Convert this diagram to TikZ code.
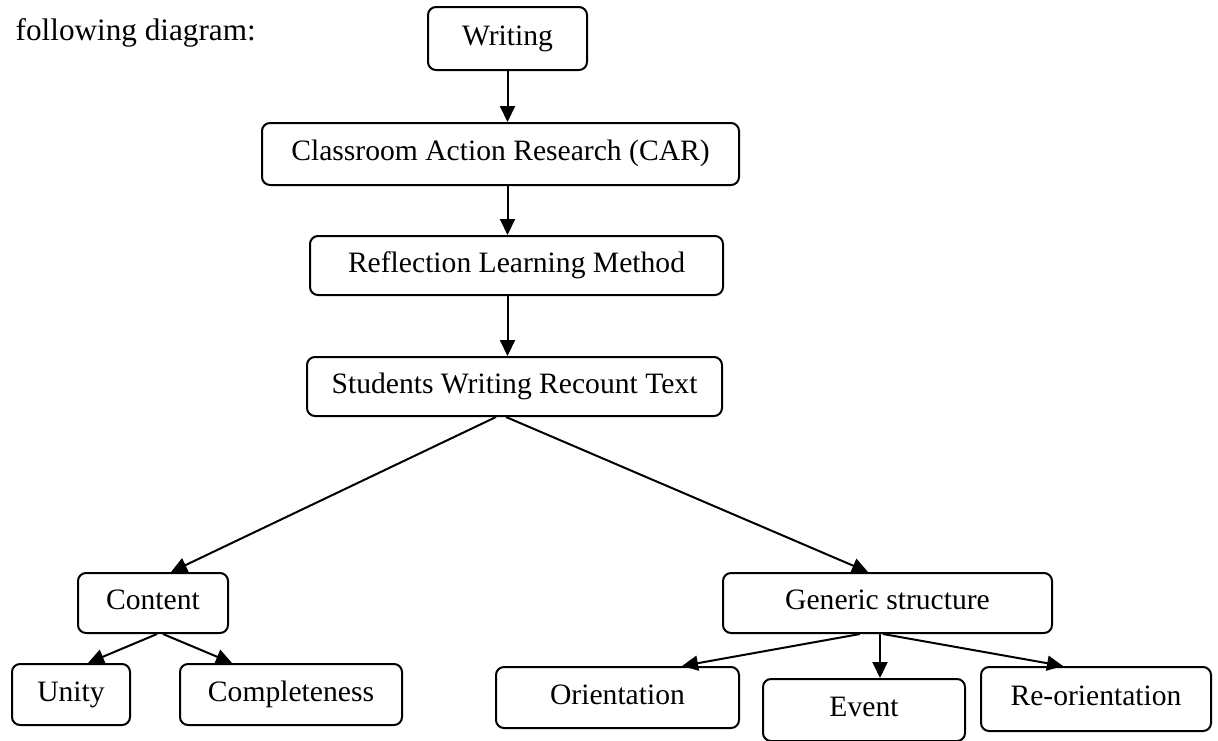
\documentclass[tikz,border=0pt]{standalone}
\usepackage{fontspec}
\setmainfont{Liberation Serif}
\usetikzlibrary{calc, arrows.meta}

\tikzset{
  box/.style={draw, rounded corners=4pt, line width=1pt, inner sep=0pt,
    text height=0.8em, text depth=0.12em,
    font=\fontsize{14.8}{17}\selectfont},
}

\begin{document}
\begin{tikzpicture}[x=0.5pt, y=-0.5pt, line width=1pt,
    >={Triangle[length=8pt, width=7.5pt]}]
  \useasboundingbox (0,0) rectangle (1218,740);
  \node[anchor=base west, font=\fontsize{15.6}{19}\selectfont] (intro) at (8,40) {following diagram:};
  % main column
  \node[box, minimum width=79.5pt, minimum height=31.5pt] (wri) at (507.5,38.5) {Writing};
  \node[box, minimum width=238.5pt, minimum height=31pt] (car) at (500.5,154) {Classroom Action Research (CAR)};
  \node[box, minimum width=206.5pt, minimum height=29.5pt] (ref) at (516.5,265.5) {Reflection Learning Method};
  \node[box, minimum width=207.5pt, minimum height=29.5pt] (stu) at (514.5,386.5) {Students Writing Recount Text};
  % two branches
  \node[box, minimum width=75pt, minimum height=30pt] (con) at (153,603) {Content};
  \node[box, minimum width=164.5pt, minimum height=30pt] (gen) at (887.5,603) {Generic structure};
  % leaves
  \node[box, minimum width=59pt, minimum height=30.5pt] (uni) at (71,694.5) {Unity};
  \node[box, minimum width=111pt, minimum height=30.5pt] (com) at (291,694.5) {Completeness};
  \node[box, minimum width=121.5pt, minimum height=30.5pt] (ori) at (617.5,697.5) {Orientation};
  \node[box, minimum width=101pt, minimum height=31pt] (eve) at (864,710) {Event};
  \node[box, minimum width=115pt, minimum height=32pt] (reo) at (1096,699) {Re-orientation};

  \draw[->] (wri.south) -- (wri.south |- car.north);
  \draw[->] (car.south -| wri.south) -- (ref.north -| wri.south);
  \draw[->] (ref.south -| wri.south) -- (stu.north -| wri.south);
  \draw[->] ($(stu.south)+(-18.5,0)$) -- ($(con.north)+(18,0)$);
  \draw[->] ($(stu.south)+(-8.5,0)$) -- ($(gen.north)+(-19.5,0)$);
  \draw[->] ($(con.south)+(4,0)$) -- ($(uni.north)+(17,0)$);
  \draw[->] ($(con.south)+(10,0)$) -- ($(com.north)+(-59,0)$);
  \draw[->] ($(gen.south)+(-27.5,0)$) -- ($(ori.north)+(64.5,0)$);
  \draw[->] ($(gen.south)+(-7.5,0)$) -- ($(eve.north)+(16,0)$);
  \draw[->] ($(gen.south)+(-4.5,0)$) -- ($(reo.north)+(-33,0)$);
\end{tikzpicture}
\end{document}
